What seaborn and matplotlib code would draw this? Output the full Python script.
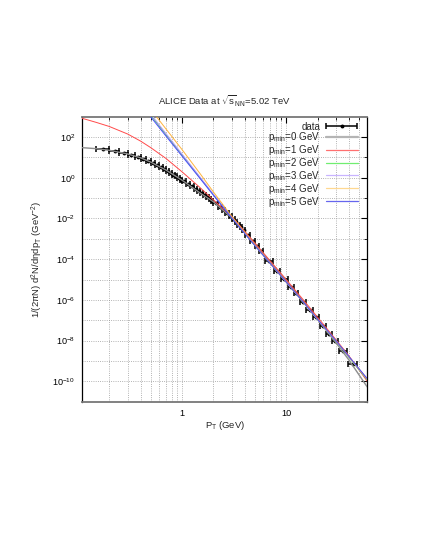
import pandas as pd
import seaborn as sns
import matplotlib.pyplot as plt
from matplotlib.lines import Line2D
from matplotlib.container import ErrorbarContainer
from matplotlib.legend_handler import HandlerErrorbar
from matplotlib.ticker import FixedLocator, LogFormatterSciNotation, NullFormatter

# ---- data ----
data_pt = [0.175, 0.225, 0.275, 0.325, 0.375, 0.425, 0.475, 0.525, 0.575,
           0.625, 0.675, 0.725, 0.775, 0.825, 0.875, 0.925, 0.975,
           1.05, 1.15, 1.25, 1.35, 1.45, 1.55, 1.65, 1.75, 1.85, 1.95,
           2.1, 2.3, 2.5, 2.7, 2.9, 3.1, 3.3, 3.5, 3.7, 3.9,
           4.25, 4.75, 5.25, 5.75,
           6.9, 8.2, 9.6, 11.2, 12.5, 14.5, 16.8, 19.4, 22.5, 26.0, 29.5, 35.0, 43.5]
data_xerr = [0.025] * 17 + [0.05] * 10 + [0.1] * 10 + [0.25] * 4 + \
            [0.6, 0.6, 0.7, 0.7, 0.6, 1.0, 1.2, 1.3, 1.5, 1.8, 1.8, 3.0, 4.5]
data_val = [25.1, 20.0, 16.2, 12.9, 10.2, 8.13, 6.46, 5.13, 4.07,
            3.31, 2.63, 2.14, 1.74, 1.41, 1.17, 0.977, 0.813,
            0.676, 0.501, 0.380, 0.288, 0.224, 0.174, 0.138, 0.112, 0.0912, 0.0741,
            0.0550, 0.0380, 0.0269, 0.0191, 0.0135, 0.00955, 0.00692, 0.00501, 0.00372, 0.00275,
            1.62e-3, 8.13e-4, 4.27e-4, 2.40e-4,
            7.76e-5, 2.75e-5, 1.07e-5, 4.27e-6, 2.09e-6, 8.32e-7, 3.31e-7, 1.38e-7,
            5.37e-8, 2.09e-8, 1.0e-8, 3.02e-9, 7.08e-10]

fit_pt = [0.11, 0.15, 0.2, 0.3, 0.4, 0.5, 0.7, 1.0, 1.5, 2.0, 3.0, 5.0, 7.0,
          10.0, 15.0, 20.0, 30.0, 40.0, 60.0]
fit_p0 = [30.2, 26.9, 22.4, 14.8, 9.55, 5.89, 2.40, 0.759, 0.174, 0.0661, 0.0107,
          5.62e-4, 7.41e-5, 8.91e-6, 7.08e-7, 1.12e-7, 7.94e-9, 1.12e-9, 5.25e-11]
fit_p1 = [832, 525, 331, 141, 63.1, 30.2, 8.91, 1.95, 0.316, 0.0813, 0.0126,
          6.31e-4, 8.32e-5, 1.0e-5, 8.51e-7, 1.41e-7, 1.12e-8, 1.78e-9, 1.0e-10]

steep_pt = [0.4, 0.5, 0.7, 1.0, 1.5, 2.0, 3.0, 5.0, 7.0, 10.0, 15.0, 20.0, 30.0, 40.0, 60.0]
fit_p2 = [5.01e3, 1.20e3, 132, 13.2, 0.955, 0.148, 0.0110, 4.79e-4, 6.31e-5,
          7.41e-6, 6.31e-7, 1.07e-7, 9.33e-9, 1.51e-9, 1.17e-10]
fit_p3 = [5.62e3, 1.35e3, 148, 14.5, 1.02, 0.155, 0.0112, 4.79e-4, 6.31e-5,
          7.41e-6, 6.31e-7, 1.07e-7, 9.55e-9, 1.58e-9, 1.26e-10]
fit_p4 = [1.0e4, 2.29e3, 251, 24.0, 1.51, 0.200, 0.0126, 5.01e-4, 6.46e-5,
          7.59e-6, 6.61e-7, 1.12e-7, 1.0e-8, 1.62e-9, 1.32e-10]
fit_p5 = [3.98e3, 977, 112, 11.5, 0.871, 0.138, 0.0105, 4.68e-4, 6.31e-5,
          7.59e-6, 6.61e-7, 1.12e-7, 1.0e-8, 1.66e-9, 1.35e-10]

fit_names = ["p0", "p1", "p2", "p3", "p4", "p5"]
fit_labels = [r"p$_{\mathrm{min}}$=%d GeV" % i for i in range(6)]
colors = {"p0": "#8c8c8c", "p1": "#ff4a4a", "p2": "#44dd44",
          "p3": "#b898ff", "p4": "#ffb43c", "p5": "#4848ff"}
legend_colors = {"p0": "#b4b4b4", "p1": "#ff7070", "p2": "#70ee70",
                 "p3": "#c8b4ff", "p4": "#ffd890", "p5": "#6666ee"}
widths = {"p0": 1.0, "p1": 0.7, "p2": 0.7, "p3": 0.7, "p4": 0.7, "p5": 0.7}

frames = []
for name, xs, ys in zip(fit_names,
                        [fit_pt, fit_pt, steep_pt, steep_pt, steep_pt, steep_pt],
                        [fit_p0, fit_p1, fit_p2, fit_p3, fit_p4, fit_p5]):
    frames.append(pd.DataFrame({"pt": xs, "val": ys, "fit": name}))
fits = pd.concat(frames, ignore_index=True)

sns.set_theme(style="white")
plt.rcParams["font.family"] = ["Liberation Sans", "DejaVu Sans"]
plt.rcParams["mathtext.fontset"] = "custom"
plt.rcParams["mathtext.rm"] = "Liberation Sans"
plt.rcParams["mathtext.it"] = "Liberation Sans:italic"
plt.rcParams["mathtext.bf"] = "Liberation Sans:bold"
fs = 6.8

fig = plt.figure(figsize=(4.25, 5.5), dpi=100)
ax = fig.add_axes([0.1936, 0.2696, 0.6706, 0.5182])
ax.set_xscale("log")
ax.set_yscale("log")

ax.errorbar(data_pt, data_val, xerr=data_xerr, fmt="o", ms=1.8, color="black",
            ecolor="black", elinewidth=1.1, capsize=2.4, capthick=1.1, zorder=3)

for name in fit_names:
    sub = fits[fits["fit"] == name]
    sns.lineplot(data=sub, x="pt", y="val", color=colors[name], lw=widths[name],
                 estimator=None, sort=False, ax=ax, zorder=4)

ax.set_xlim(0.11, 60)
ax.set_ylim(1e-11, 1e3)
ax.set_xlabel("")
ax.set_ylabel("")

ax.xaxis.set_major_locator(FixedLocator([1, 10]))
ax.set_xticklabels(["1", "10"])
ax.xaxis.set_minor_locator(FixedLocator([0.2, 0.3, 0.4, 0.5, 0.6, 0.7, 0.8, 0.9,
                                         2, 3, 4, 5, 6, 7, 8, 9, 20, 30, 40, 50]))
ax.xaxis.set_minor_formatter(NullFormatter())
ax.yaxis.set_major_locator(FixedLocator([1e-10, 1e-8, 1e-6, 1e-4, 1e-2, 1, 1e2]))
ax.yaxis.set_major_formatter(LogFormatterSciNotation())
ax.yaxis.set_minor_locator(FixedLocator([1e-11, 1e-9, 1e-7, 1e-5, 1e-3, 1e-1, 1e1]))
ax.yaxis.set_minor_formatter(NullFormatter())

ax.tick_params(which="both", direction="in", top=True, right=True, colors="black",
               labelsize=6.6, pad=5)
ax.tick_params(which="major", length=4, width=0.8)
ax.tick_params(which="minor", length=2, width=0.6)
ax.grid(which="both", linestyle=":", color="#9a9a9a", linewidth=0.6)
for side in ["left", "right"]:
    ax.spines[side].set_color("black")
    ax.spines[side].set_linewidth(0.9)
for side in ["top", "bottom"]:
    ax.spines[side].set_color("#777777")
    ax.spines[side].set_linewidth(1.3)

handles = [ax.containers[0]] + [Line2D([], [], color=legend_colors[n], lw=1.6 if n == "p0" else 0.9)
                                for n in fit_names]
ax.legend(handles, ["data"] + fit_labels, loc="upper right", bbox_to_anchor=(0.966, 0.983),
          markerfirst=False, frameon=False, fontsize=7.0, handlelength=3.3,
          handletextpad=0.55, labelspacing=-0.12, borderpad=0, borderaxespad=0,
          handler_map={ErrorbarContainer: HandlerErrorbar(xerr_size=1.6)})

fig.text(224.8 / 425, 1 - 101.7 / 550, r"ALICE Data at $\sqrt{\mathrm{s}}_{\mathrm{NN}}$=5.02 TeV",
         ha="center", va="center", fontsize=fs)
fig.text(37 / 425, 1 - 259.2 / 550,
         r"1/(2πN) d$^{2}$N/dηdp$_{\mathrm{T}}$ (GeV$^{-2}$)",
         rotation=90, ha="center", va="center", fontsize=fs)
fig.text(225 / 425, 1 - 425 / 550, r"P$_{\mathrm{T}}$ (GeV)", ha="center", va="center", fontsize=fs)

fig.savefig("out.png", dpi=100)
